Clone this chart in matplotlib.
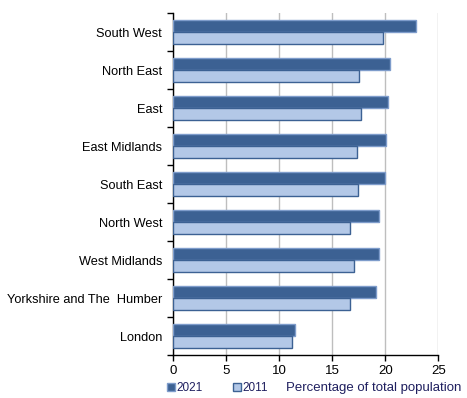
import matplotlib
matplotlib.use("Agg")
import matplotlib.pyplot as plt
import numpy as np

regions = ["South West", "North East", "East", "East Midlands", "South East",
           "North West", "West Midlands", "Yorkshire and The  Humber", "London"]
pct_2021 = [22.9, 20.4, 20.3, 20.1, 20.0, 19.4, 19.4, 19.1, 11.5]
pct_2011 = [19.8, 17.5, 17.7, 17.3, 17.4, 16.7, 17.0, 16.7, 11.2]
x_ticks = [0, 5, 10, 15, 20, 25]

plt.rcParams["font.family"] = ["Liberation Sans", "DejaVu Sans"]

dark = "#3c6193"
dark_edge = "#7e9ccb"
light = "#b3c8e7"

fig = plt.figure(figsize=(4.67, 3.98), dpi=100)
ax = fig.add_axes([0.371, 0.108, 0.5676, 0.859])

y = np.arange(len(regions))
h = 0.316
ax.barh(y - h / 2, pct_2021, height=h, color=dark, edgecolor=dark_edge,
        linewidth=1, label="2021", zorder=3)
ax.barh(y + h / 2, pct_2011, height=h, color=light, edgecolor=dark,
        linewidth=1, label="2011", zorder=3)

ax.set_ylim(len(regions) - 0.5, -0.5)
ax.set_xlim(0, 25)
ax.set_xticks(x_ticks)
ax.tick_params(axis="x", length=4, width=1, labelsize=9.5, pad=3)

# category labels centred, ticks on the boundaries
ax.set_yticks(y)
ax.set_yticklabels(regions, fontsize=9.2)
ax.tick_params(axis="y", which="major", length=0, pad=8)
ax.set_yticks(np.arange(len(regions) + 1) - 0.5, minor=True)
ax.tick_params(axis="y", which="minor", length=4, width=1)

ax.grid(axis="x", color="#bebebe", linewidth=1, zorder=0)
ax.set_axisbelow(True)
for side in ["top", "right"]:
    ax.spines[side].set_visible(False)
ax.spines["left"].set_linewidth(1)
ax.spines["bottom"].set_linewidth(1)

fig.legend(loc="lower left", bbox_to_anchor=(0.335, -0.016), ncol=2,
           frameon=False, fontsize=8.5, handlelength=0.65, handleheight=0.65,
           handletextpad=0.15, columnspacing=2.6, labelcolor="#1f1f5f")
fig.text(0.988, 0.01, "Percentage of total population", ha="right", va="bottom",
         fontsize=9.5, color="#1f1f5f")

fig.savefig("out.png", dpi=100)
